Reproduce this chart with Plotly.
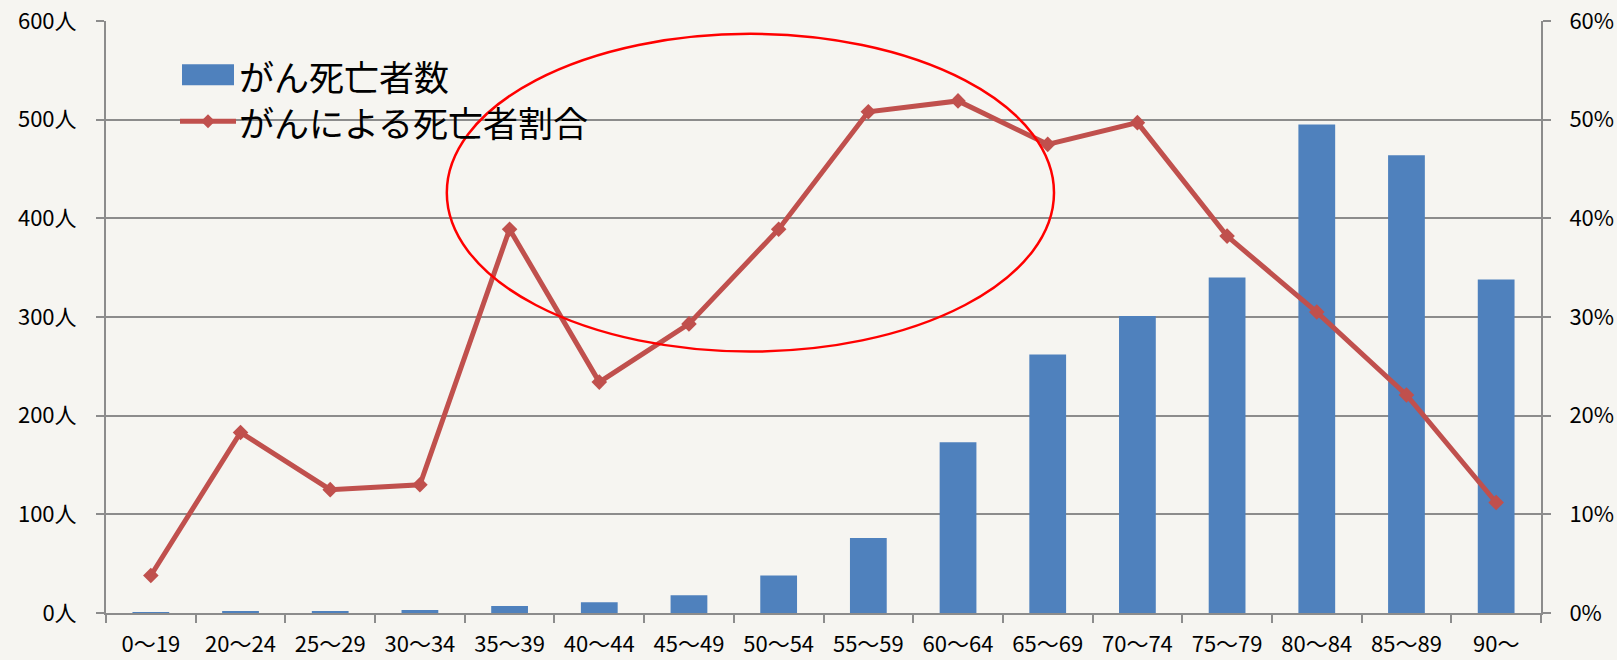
import plotly.graph_objects as go

# Age groups and values
age_groups = ["0～19", "20～24", "25～29", "30～34", "35～39", "40～44", "45～49",
              "50～54", "55～59", "60～64", "65～69", "70～74", "75～79", "80～84",
              "85～89", "90～"]
cancer_deaths = [1, 2, 2, 3, 7, 11, 18, 38, 76, 173, 262, 301, 340, 495, 464, 338]
cancer_share = [0.038, 0.183, 0.125, 0.130, 0.389, 0.234, 0.293, 0.389, 0.508,
                0.519, 0.475, 0.497, 0.382, 0.305, 0.221, 0.112]
left_ticks = [0, 100, 200, 300, 400, 500, 600]
left_tick_text = [f"{v}人" for v in left_ticks]
right_ticks = [0, 0.1, 0.2, 0.3, 0.4, 0.5, 0.6]

BAR_COLOR = "#4F81BD"
LINE_COLOR = "#C0504D"
GRID = "#8C8C8C"
BG = "#F6F5F1"
FONT = "Noto Sans CJK JP"

fig = go.Figure()
fig.add_trace(go.Bar(x=age_groups, y=cancer_deaths, name="がん死亡者数",
                     marker=dict(color=BAR_COLOR, line=dict(width=0)),
                     showlegend=False))
fig.add_trace(go.Scatter(x=age_groups, y=cancer_share, name="がんによる死亡者割合",
                         yaxis="y2", mode="lines+markers",
                         line=dict(color=LINE_COLOR, width=5),
                         marker=dict(symbol="diamond", size=12, color=LINE_COLOR),
                         showlegend=False))

# Highlight ellipse around the 35-74 age range
fig.add_shape(type="circle", xref="x", yref="y", x0=3.30, x1=10.07, y0=265, y1=587,
              line=dict(color="#FF0000", width=2.5), layer="above")

# Hand-drawn legend (large swatches)
L, R, T, B = 106, 1541, 20.7, 612.7
def px(x):
    return (x - L) / (R - L)
def py(y):
    return (B - y) / (B - T)

fig.add_shape(type="rect", xref="paper", yref="paper",
              x0=px(182), x1=px(234), y0=py(85), y1=py(64),
              fillcolor=BAR_COLOR, line=dict(width=0), layer="above")
fig.add_shape(type="line", xref="paper", yref="paper",
              x0=px(180), x1=px(236), y0=py(121), y1=py(121),
              line=dict(color=LINE_COLOR, width=5), layer="above")
fig.add_shape(type="path", xref="paper", yref="paper",
              xsizemode="pixel", ysizemode="pixel",
              xanchor=px(208), yanchor=py(121),
              path="M -7 0 L 0 7 L 7 0 L 0 -7 Z",
              fillcolor=LINE_COLOR, line=dict(width=0), layer="above")
for text, yc in [("がん死亡者数", 75), ("がんによる死亡者割合", 121)]:
    fig.add_annotation(text=text, xref="paper", yref="paper", x=px(238), y=py(yc),
                       xanchor="left", yanchor="middle", showarrow=False,
                       height=42, valign="middle", borderpad=0,
                       font=dict(family=FONT, size=35, color="black"))

fig.update_layout(
    width=1617, height=660,
    margin=dict(l=106, r=76, t=21, b=47, autoexpand=False),
    paper_bgcolor=BG, plot_bgcolor=BG,
    font=dict(family=FONT, size=22, color="black"),
    bargap=0.59,
    xaxis=dict(type="category", showline=True, linecolor=GRID, linewidth=2,
               ticks="outside", tickson="boundaries", ticklen=8, tickcolor=GRID,
               tickwidth=2, showgrid=False, ticklabelstandoff=11,
               range=[-0.5, 15.5]),
    yaxis=dict(range=[0, 600], tickvals=left_ticks, ticktext=left_tick_text,
               showline=True, linecolor=GRID, linewidth=2, ticks="outside",
               ticklen=8, tickcolor=GRID, tickwidth=2, showgrid=True,
               gridcolor=GRID, gridwidth=2, zeroline=False,
               ticklabelstandoff=15),
    yaxis2=dict(range=[0, 0.6], tickvals=right_ticks, tickformat=".0%",
                overlaying="y", side="right", showline=True, linecolor=GRID,
                linewidth=2, ticks="outside", ticklen=8, tickcolor=GRID,
                tickwidth=2, showgrid=False, zeroline=False,
                ticklabelstandoff=14),
)

fig.write_html("out.html")
